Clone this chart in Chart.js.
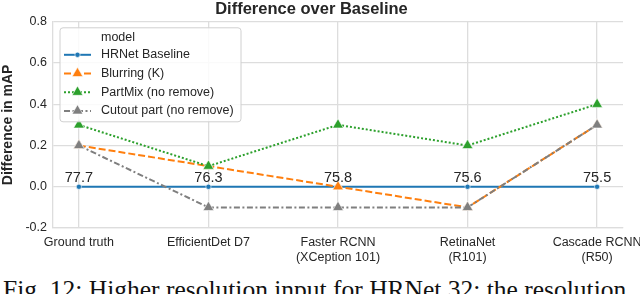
<!DOCTYPE html>
<html>
<head>
<meta charset="utf-8">
<script src="https://cdn.jsdelivr.net/npm/chart.js@4"></script>
<style>
  body { margin: 0; background: #fff; }
  #wrap { position: relative; width: 640px; height: 294px; overflow: hidden; }
  #caption {
    position: absolute; left: 3px; top: 277px; white-space: nowrap;
    font-family: "Liberation Serif", "DejaVu Serif", serif; font-size: 25.5px;
    line-height: 25.5px; color: #111;
  }
</style>
</head>
<body>
<div id="wrap">
  <canvas id="myChart" width="640" height="270" style="width:640px;height:270px"></canvas>
  <div id="caption">Fig. 12: Higher resolution input for HRNet 32: the resolution</div>
</div>
<script>
var models = [
  ["Ground truth"],
  ["EfficientDet D7"],
  ["Faster RCNN", "(XCeption 101)"],
  ["RetinaNet", "(R101)"],
  ["Cascade RCNN", "(R50)"],
];
var baseMAP = ["77.7", "76.3", "75.8", "75.6", "75.5"];
var hrnetValues = [0, 0, 0, 0, 0];
var blurValues = [0.2, 0.1, 0.0, -0.1, 0.3];
var partmixValues = [0.3, 0.1, 0.3, 0.2, 0.4];
var cutoutValues = [0.2, -0.1, -0.1, -0.1, 0.3];
var yTicks = [-0.2, 0.0, 0.2, 0.4, 0.6, 0.8];

var textColor = "#262626";
var gridColor = "#dddddd";
var font = "Liberation Sans, Arial, sans-serif";

function pts(vals) {
  return vals.map(function (v, i) { return { x: i, y: v }; });
}

// numbers above the baseline points
var mapLabels = {
  id: "mapLabels",
  afterDatasetsDraw: function (chart) {
    var ctx = chart.ctx;
    var xs = chart.scales.x, ys = chart.scales.y;
    ctx.save();
    ctx.font = "14.5px " + font;
    ctx.fillStyle = textColor;
    ctx.textAlign = "center";
    ctx.textBaseline = "alphabetic";
    baseMAP.forEach(function (t, i) {
      ctx.fillText(t, xs.getPixelForValue(i), ys.getPixelForValue(0) - 5);
    });
    ctx.restore();
  },
};

function drawMarker(ctx, style, r, x, y) {
  if (style === "triangle") {
    ctx.moveTo(x, y - r);
    ctx.lineTo(x + r * Math.sin(Math.PI / 3), y + r * 0.5);
    ctx.lineTo(x - r * Math.sin(Math.PI / 3), y + r * 0.5);
    ctx.closePath();
  } else {
    ctx.arc(x, y, r, 0, Math.PI * 2);
  }
}

// seaborn style legend: line + marker handles, hue title as first row
var sbLegend = {
  id: "sbLegend",
  afterDraw: function (chart) {
    var ctx = chart.ctx;
    var a = chart.chartArea;
    var x0 = a.left + 7, y0 = a.top + 6, w = 181, h = 94;
    ctx.save();
    ctx.beginPath();
    ctx.roundRect(x0, y0, w, h, 3);
    ctx.fillStyle = "rgba(255,255,255,0.85)";
    ctx.fill();
    ctx.strokeStyle = "#d0d0d0";
    ctx.lineWidth = 1;
    ctx.stroke();
    ctx.font = "12.5px " + font;
    ctx.fillStyle = textColor;
    ctx.textBaseline = "middle";
    ctx.textAlign = "left";
    var tx = x0 + 41, lx0 = x0 + 4, lx1 = x0 + 31;
    ctx.fillText("model", tx, y0 + 9.5);
    chart.data.datasets.forEach(function (d, i) {
      var y = y0 + 27 + i * 18.7;
      ctx.save();
      ctx.strokeStyle = d.borderColor;
      ctx.lineWidth = d.borderWidth;
      ctx.setLineDash(d.borderDash || []);
      ctx.beginPath();
      ctx.moveTo(lx0, y);
      ctx.lineTo(lx1, y);
      ctx.stroke();
      ctx.restore();
      ctx.fillStyle = d.borderColor;
      ctx.strokeStyle = "#fff";
      ctx.lineWidth = d.pointBorderWidth;
      ctx.beginPath();
      drawMarker(ctx, d.pointStyle, d.pointRadius, (lx0 + lx1) / 2, y);
      ctx.fill();
      ctx.stroke();
      ctx.fillStyle = textColor;
      ctx.fillText(d.label, tx, y);
    });
    ctx.restore();
  },
};

function series(label, vals, color, dash, style, r, order) {
  return {
    label: label,
    data: pts(vals),
    borderColor: color,
    backgroundColor: color,
    borderWidth: 2,
    borderDash: dash,
    pointStyle: style,
    pointRadius: r,
    pointHoverRadius: r,
    pointBackgroundColor: color,
    pointBorderColor: "#ffffff",
    pointBorderWidth: 0.6,
    tension: 0,
    order: order,
  };
}

new Chart("myChart", {
  type: "line",
  data: {
    datasets: [
      series("HRNet Baseline", hrnetValues, "#1f77b4", [], "circle", 2.6, 4),
      series("Blurring (K)", blurValues, "#ff7f0e", [7, 3], "triangle", 6.2, 3),
      series("PartMix (no remove)", partmixValues, "#2ca02c", [2, 2], "triangle", 6.2, 2),
      series("Cutout part (no remove)", cutoutValues, "#7f7f7f", [6, 2.5, 2, 2.5], "triangle", 6.2, 1),
    ],
  },
  options: {
    responsive: false,
    animation: false,
    layout: { padding: { left: 0, right: 17, top: 0, bottom: 0 } },
    plugins: {
      legend: { display: false },
      tooltip: { enabled: false },
      title: {
        display: true,
        text: "Difference over Baseline",
        color: textColor,
        font: { family: font, size: 16.5, weight: "bold", lineHeight: 1.2 },
        padding: { top: 0, bottom: 2 },
      },
    },
    scales: {
      x: {
        type: "linear",
        min: -0.2,
        max: 4.2,
        afterBuildTicks: function (s) {
          s.ticks = models.map(function (m, i) { return { value: i }; });
        },
        afterFit: function (s) {
          s.height = 42;
          s.paddingLeft = 0;
          s.paddingRight = 0;
        },
        ticks: {
          color: textColor,
          font: { family: font, size: 12.5, lineHeight: 1.2 },
          padding: 7,
          maxRotation: 0,
          autoSkip: false,
          callback: function (v) { return models[v]; },
        },
        grid: { color: gridColor, lineWidth: 1.3, drawTicks: false },
        border: { color: gridColor, width: 1.3 },
      },
      y: {
        min: -0.2,
        max: 0.8,
        afterBuildTicks: function (s) {
          s.ticks = yTicks.map(function (v) { return { value: v }; });
        },
        afterFit: function (s) {
          s.width = 53;
          s.paddingTop = 0;
          s.paddingBottom = 0;
        },
        ticks: {
          color: textColor,
          font: { family: font, size: 12.5 },
          padding: 6,
          callback: function (v) { return v.toFixed(1); },
        },
        title: {
          display: true,
          text: "Difference in mAP",
          color: textColor,
          font: { family: font, size: 14, weight: "bold", lineHeight: 1.2 },
          padding: 0,
        },
        grid: { color: gridColor, lineWidth: 1.3, drawTicks: false },
        border: { color: gridColor, width: 1.3 },
      },
    },
  },
  plugins: [mapLabels, sbLegend],
});
</script>
</body>
</html>
